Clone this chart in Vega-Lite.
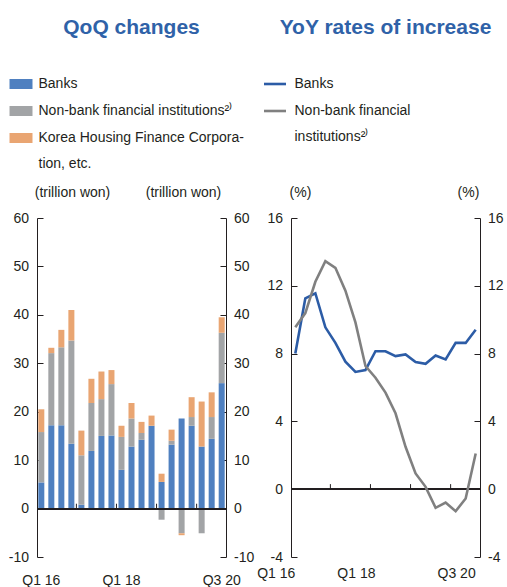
{
  "$schema": "https://vega.github.io/schema/vega-lite/v6.json",
  "padding": {"left": 8, "top": 17, "right": 4, "bottom": 4},
  "spacing": 2,
  "datasets": {
    "bars": [
      {"quarter": "Q1 16", "series": "Banks", "value": 5.4},
      {"quarter": "Q1 16", "series": "Non-bank financial institutions²⁾", "value": 10.4},
      {"quarter": "Q1 16", "series": "Korea Housing Finance Corporation, etc.", "value": 4.7},
      {"quarter": "Q2 16", "series": "Banks", "value": 17.2},
      {"quarter": "Q2 16", "series": "Non-bank financial institutions²⁾", "value": 14.9},
      {"quarter": "Q2 16", "series": "Korea Housing Finance Corporation, etc.", "value": 1.1},
      {"quarter": "Q3 16", "series": "Banks", "value": 17.2},
      {"quarter": "Q3 16", "series": "Non-bank financial institutions²⁾", "value": 16.1},
      {"quarter": "Q3 16", "series": "Korea Housing Finance Corporation, etc.", "value": 3.6},
      {"quarter": "Q4 16", "series": "Banks", "value": 13.4},
      {"quarter": "Q4 16", "series": "Non-bank financial institutions²⁾", "value": 21.3},
      {"quarter": "Q4 16", "series": "Korea Housing Finance Corporation, etc.", "value": 6.3},
      {"quarter": "Q1 17", "series": "Banks", "value": 0.8},
      {"quarter": "Q1 17", "series": "Non-bank financial institutions²⁾", "value": 10.2},
      {"quarter": "Q1 17", "series": "Korea Housing Finance Corporation, etc.", "value": 5.1},
      {"quarter": "Q2 17", "series": "Banks", "value": 11.9},
      {"quarter": "Q2 17", "series": "Non-bank financial institutions²⁾", "value": 9.9},
      {"quarter": "Q2 17", "series": "Korea Housing Finance Corporation, etc.", "value": 5.0},
      {"quarter": "Q3 17", "series": "Banks", "value": 15.0},
      {"quarter": "Q3 17", "series": "Non-bank financial institutions²⁾", "value": 7.6},
      {"quarter": "Q3 17", "series": "Korea Housing Finance Corporation, etc.", "value": 5.7},
      {"quarter": "Q4 17", "series": "Banks", "value": 15.1},
      {"quarter": "Q4 17", "series": "Non-bank financial institutions²⁾", "value": 10.6},
      {"quarter": "Q4 17", "series": "Korea Housing Finance Corporation, etc.", "value": 2.9},
      {"quarter": "Q1 18", "series": "Banks", "value": 8.0},
      {"quarter": "Q1 18", "series": "Non-bank financial institutions²⁾", "value": 6.8},
      {"quarter": "Q1 18", "series": "Korea Housing Finance Corporation, etc.", "value": 2.3},
      {"quarter": "Q2 18", "series": "Banks", "value": 12.8},
      {"quarter": "Q2 18", "series": "Non-bank financial institutions²⁾", "value": 5.8},
      {"quarter": "Q2 18", "series": "Korea Housing Finance Corporation, etc.", "value": 3.2},
      {"quarter": "Q3 18", "series": "Banks", "value": 14.2},
      {"quarter": "Q3 18", "series": "Non-bank financial institutions²⁾", "value": 1.4},
      {"quarter": "Q3 18", "series": "Korea Housing Finance Corporation, etc.", "value": 2.3},
      {"quarter": "Q4 18", "series": "Banks", "value": 17.1},
      {"quarter": "Q4 18", "series": "Non-bank financial institutions²⁾", "value": 0.0},
      {"quarter": "Q4 18", "series": "Korea Housing Finance Corporation, etc.", "value": 2.1},
      {"quarter": "Q1 19", "series": "Banks", "value": 5.5},
      {"quarter": "Q1 19", "series": "Non-bank financial institutions²⁾", "value": -2.3},
      {"quarter": "Q1 19", "series": "Korea Housing Finance Corporation, etc.", "value": 1.7},
      {"quarter": "Q2 19", "series": "Banks", "value": 13.2},
      {"quarter": "Q2 19", "series": "Non-bank financial institutions²⁾", "value": 0.8},
      {"quarter": "Q2 19", "series": "Korea Housing Finance Corporation, etc.", "value": 2.3},
      {"quarter": "Q3 19", "series": "Banks", "value": 18.6},
      {"quarter": "Q3 19", "series": "Non-bank financial institutions²⁾", "value": -5.1},
      {"quarter": "Q3 19", "series": "Korea Housing Finance Corporation, etc.", "value": -0.4},
      {"quarter": "Q4 19", "series": "Banks", "value": 17.1},
      {"quarter": "Q4 19", "series": "Non-bank financial institutions²⁾", "value": 1.8},
      {"quarter": "Q4 19", "series": "Korea Housing Finance Corporation, etc.", "value": 4.1},
      {"quarter": "Q1 20", "series": "Banks", "value": 12.8},
      {"quarter": "Q1 20", "series": "Non-bank financial institutions²⁾", "value": -5.1},
      {"quarter": "Q1 20", "series": "Korea Housing Finance Corporation, etc.", "value": 9.3},
      {"quarter": "Q2 20", "series": "Banks", "value": 14.4},
      {"quarter": "Q2 20", "series": "Non-bank financial institutions²⁾", "value": 4.5},
      {"quarter": "Q2 20", "series": "Korea Housing Finance Corporation, etc.", "value": 5.1},
      {"quarter": "Q3 20", "series": "Banks", "value": 25.9},
      {"quarter": "Q3 20", "series": "Non-bank financial institutions²⁾", "value": 10.4},
      {"quarter": "Q3 20", "series": "Korea Housing Finance Corporation, etc.", "value": 3.2}
    ],
    "lines": [
      {"quarter": "Q1 16", "series": "Banks", "value": 8.0},
      {"quarter": "Q2 16", "series": "Banks", "value": 11.26},
      {"quarter": "Q3 16", "series": "Banks", "value": 11.56},
      {"quarter": "Q4 16", "series": "Banks", "value": 9.55},
      {"quarter": "Q1 17", "series": "Banks", "value": 8.63},
      {"quarter": "Q2 17", "series": "Banks", "value": 7.52},
      {"quarter": "Q3 17", "series": "Banks", "value": 6.92},
      {"quarter": "Q4 17", "series": "Banks", "value": 7.03},
      {"quarter": "Q1 18", "series": "Banks", "value": 8.14},
      {"quarter": "Q2 18", "series": "Banks", "value": 8.14},
      {"quarter": "Q3 18", "series": "Banks", "value": 7.85},
      {"quarter": "Q4 18", "series": "Banks", "value": 7.95},
      {"quarter": "Q1 19", "series": "Banks", "value": 7.5},
      {"quarter": "Q2 19", "series": "Banks", "value": 7.4},
      {"quarter": "Q3 19", "series": "Banks", "value": 7.89},
      {"quarter": "Q4 19", "series": "Banks", "value": 7.66},
      {"quarter": "Q1 20", "series": "Banks", "value": 8.63},
      {"quarter": "Q2 20", "series": "Banks", "value": 8.63},
      {"quarter": "Q3 20", "series": "Banks", "value": 9.41},
      {"quarter": "Q1 16", "series": "Non-bank financial institutions²⁾", "value": 9.55},
      {"quarter": "Q2 16", "series": "Non-bank financial institutions²⁾", "value": 10.39},
      {"quarter": "Q3 16", "series": "Non-bank financial institutions²⁾", "value": 12.24},
      {"quarter": "Q4 16", "series": "Non-bank financial institutions²⁾", "value": 13.45},
      {"quarter": "Q1 17", "series": "Non-bank financial institutions²⁾", "value": 13.06},
      {"quarter": "Q2 17", "series": "Non-bank financial institutions²⁾", "value": 11.71},
      {"quarter": "Q3 17", "series": "Non-bank financial institutions²⁾", "value": 9.84},
      {"quarter": "Q4 17", "series": "Non-bank financial institutions²⁾", "value": 7.27},
      {"quarter": "Q1 18", "series": "Non-bank financial institutions²⁾", "value": 6.58},
      {"quarter": "Q2 18", "series": "Non-bank financial institutions²⁾", "value": 5.7},
      {"quarter": "Q3 18", "series": "Non-bank financial institutions²⁾", "value": 4.48},
      {"quarter": "Q4 18", "series": "Non-bank financial institutions²⁾", "value": 2.5},
      {"quarter": "Q1 19", "series": "Non-bank financial institutions²⁾", "value": 0.93},
      {"quarter": "Q2 19", "series": "Non-bank financial institutions²⁾", "value": 0.14},
      {"quarter": "Q3 19", "series": "Non-bank financial institutions²⁾", "value": -1.1},
      {"quarter": "Q4 19", "series": "Non-bank financial institutions²⁾", "value": -0.79},
      {"quarter": "Q1 20", "series": "Non-bank financial institutions²⁾", "value": -1.3},
      {"quarter": "Q2 20", "series": "Non-bank financial institutions²⁾", "value": -0.55},
      {"quarter": "Q3 20", "series": "Non-bank financial institutions²⁾", "value": 2.11}
    ]
  },
  "resolve": {"scale": {"color": "independent"}, "legend": {"color": "independent"}},
  "config": {
    "font": "Liberation Sans",
    "view": {"stroke": null},
    "axis": {
      "labelFont": "Liberation Sans", "labelFontSize": 14, "labelColor": "#231f20",
      "domainColor": "#231f20", "tickColor": "#231f20", "grid": false,
      "titleFont": "Liberation Sans", "titleFontSize": 14, "titleFontWeight": "normal", "titleColor": "#231f20"
    },
    "legend": {"labelFont": "Liberation Sans", "labelFontSize": 14, "labelColor": "#231f20", "padding": 0},
    "title": {"font": "Liberation Sans", "fontSize": 21, "fontWeight": "bold", "color": "#2f62a8", "anchor": "middle", "frame": "group"}
  },
  "hconcat": [
    {
      "width": 189,
      "height": 339,
      "title": {"text": "QoQ changes", "offset": 39},
      "data": {"name": "bars"},
      "layer": [
        {
          "transform": [{"window": [{"op": "row_number", "as": "stackRank"}], "groupby": ["quarter"]}],
          "mark": {"type": "bar"},
          "encoding": {
            "x": {
              "field": "quarter", "type": "ordinal",
              "scale": {"domain": ["Q1 16","Q2 16","Q3 16","Q4 16","Q1 17","Q2 17","Q3 17","Q4 17","Q1 18","Q2 18","Q3 18","Q4 18","Q1 19","Q2 19","Q3 19","Q4 19","Q1 20","Q2 20","Q3 20"], "paddingInner": 0.4, "paddingOuter": 0.13},
              "axis": {"title": null, "ticks": false, "domain": false, "labelAngle": 0, "labelPadding": 16, "labelExpr": "indexof(['Q1 16','Q1 18','Q3 20'], datum.value) >= 0 ? datum.value : ''"}
            },
            "y": {
              "field": "value", "type": "quantitative", "stack": "zero",
              "scale": {"domain": [-10, 60], "nice": false},
              "axis": {"orient": "left", "values": [-10,0,10,20,30,40,50,60], "labelExpr": "'' + datum.value", "tickSize": -6, "labelPadding": 14.5,
                       "title": "(trillion won)", "titleAngle": 0, "titleX": 35, "titleY": -26, "titleAlign": "center", "titleBaseline": "middle"}
            },
            "order": {"field": "stackRank", "type": "quantitative", "sort": "ascending"},
            "color": {
              "field": "series", "type": "nominal",
              "sort": ["Banks", "Non-bank financial institutions²⁾", "Korea Housing Finance Corporation, etc."],
              "scale": {"domain": ["Banks", "Non-bank financial institutions²⁾", "Korea Housing Finance Corporation, etc."], "range": ["#4f80c0", "#a2a4a6", "#e9a572"]},
              "legend": {
                "orient": "none", "legendX": -23, "legendY": -141, "title": null, "direction": "vertical",
                "symbolType": "M-2.3,-1H2.3V1H-2.3Z", "symbolSize": 100, "symbolStrokeWidth": 0, "symbolOpacity": 1,
                "labelOffset": 10.5, "rowPadding": 13, "labelLimit": 500, "labelBaseline": "top",
                "labelExpr": "datum.label == 'Korea Housing Finance Corporation, etc.' ? ['Korea Housing Finance Corpora-', 'tion, etc.'] : datum.label",
                "encode": {"labels": {"update": {"dy": {"value": -7}, "lineHeight": {"value": 26}}}}
              }
            }
          }
        },
        {
          "mark": {"type": "rule", "color": "#231f20", "strokeWidth": 1.2},
          "encoding": {
            "y": {
              "datum": 0, "type": "quantitative",
              "scale": {"domain": [-10, 60], "nice": false},
              "axis": {"orient": "right", "values": [-10,0,10,20,30,40,50,60], "labelExpr": "'' + datum.value", "tickSize": -6, "labelPadding": 13.5,
                       "title": "(trillion won)", "titleAngle": 0, "titleX": -43, "titleY": -26, "titleAlign": "center", "titleBaseline": "middle"}
            }
          }
        },
        {
          "transform": [
            {"filter": {"field": "quarter", "oneOf": ["Q4 16", "Q4 17", "Q4 18", "Q4 19"]}},
            {"filter": {"field": "series", "equal": "Banks"}}
          ],
          "mark": {"type": "rule", "color": "#231f20", "strokeWidth": 1},
          "encoding": {
            "x": {"field": "quarter", "type": "ordinal", "bandPosition": 1.333},
            "y": {"datum": 0, "type": "quantitative", "scale": {"domain": [-10, 60], "nice": false}, "axis": null},
            "y2": {"datum": 1}
          }
        }
      ],
      "resolve": {"scale": {"y": "independent"}}
    },
    {
      "width": 189,
      "height": 339,
      "title": {"text": "YoY rates of increase", "offset": 39},
      "data": {"name": "lines"},
      "layer": [
        {
          "mark": {"type": "rule", "color": "#231f20", "strokeWidth": 1.2},
          "encoding": {
            "y": {
              "datum": 0, "type": "quantitative",
              "scale": {"domain": [-4, 16], "nice": false},
              "axis": {"orient": "right", "values": [-4,0,4,8,12,16], "labelExpr": "'' + datum.value", "tickSize": -6, "labelPadding": 13.5,
                       "title": "(%)", "titleAngle": 0, "titleX": -12, "titleY": -26, "titleAlign": "center", "titleBaseline": "middle"}
            }
          }
        },
        {
          "transform": [
            {"filter": {"field": "quarter", "oneOf": ["Q4 16", "Q4 17", "Q4 18", "Q4 19"]}},
            {"filter": {"field": "series", "equal": "Banks"}}
          ],
          "mark": {"type": "rule", "color": "#231f20", "strokeWidth": 1},
          "encoding": {
            "x": {"field": "quarter", "type": "ordinal", "bandPosition": 1.333},
            "y": {"datum": 0, "type": "quantitative", "scale": {"domain": [-4, 16], "nice": false}, "axis": null},
            "y2": {"datum": 0.3}
          }
        },
        {
          "mark": {"type": "line", "strokeWidth": 2.6},
          "encoding": {
            "x": {
              "field": "quarter", "type": "ordinal",
              "scale": {"type": "band", "domain": ["Q1 16","Q2 16","Q3 16","Q4 16","Q1 17","Q2 17","Q3 17","Q4 17","Q1 18","Q2 18","Q3 18","Q4 18","Q1 19","Q2 19","Q3 19","Q4 19","Q1 20","Q2 20","Q3 20"], "paddingInner": 0.4, "paddingOuter": 0.13},
              "axis": {"title": null, "ticks": false, "domain": false, "labelAngle": 0, "labelPadding": 16, "labelExpr": "indexof(['Q1 16','Q1 18','Q3 20'], datum.value) >= 0 ? datum.value : ''"}
            },
            "y": {
              "field": "value", "type": "quantitative",
              "scale": {"domain": [-4, 16], "nice": false},
              "axis": {"orient": "left", "values": [-4,0,4,8,12,16], "labelExpr": "'' + datum.value", "tickSize": -6, "labelPadding": 14.5,
                       "title": "(%)", "titleAngle": 0, "titleX": 9, "titleY": -26, "titleAlign": "center", "titleBaseline": "middle"}
            },
            "color": {
              "field": "series", "type": "nominal",
              "scale": {"domain": ["Banks", "Non-bank financial institutions²⁾"], "range": ["#2c5ca6", "#808080"]},
              "legend": {
                "orient": "none", "legendX": -23, "legendY": -141, "title": null, "direction": "vertical",
                "symbolType": "M-2.2,0H2.2", "symbolSize": 100, "symbolStrokeWidth": 2.6,
                "labelOffset": 12.5, "rowPadding": 13, "labelLimit": 500, "labelBaseline": "top",
                "labelExpr": "datum.label == 'Non-bank financial institutions²⁾' ? ['Non-bank financial', 'institutions²⁾'] : datum.label",
                "encode": {"labels": {"update": {"dy": {"value": -7}, "lineHeight": {"value": 26}}}}
              }
            }
          }
        }
      ],
      "resolve": {"scale": {"y": "independent"}}
    }
  ]
}
